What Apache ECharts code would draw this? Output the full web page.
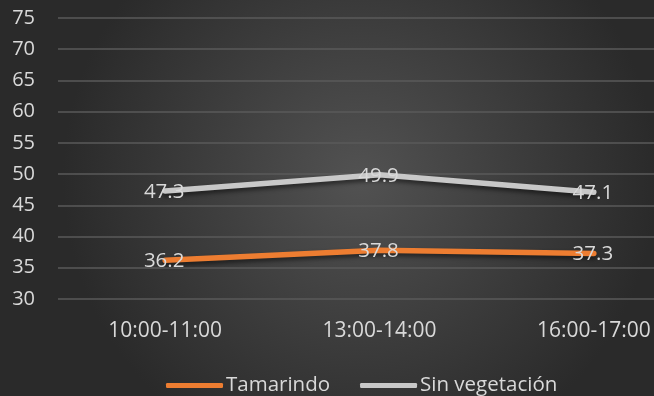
<!DOCTYPE html>
<html><head><meta charset="utf-8">
<script src="https://cdn.jsdelivr.net/npm/echarts@6/dist/echarts.min.js"></script>
<style>html,body{margin:0;padding:0;background:#333}#c{width:654px;height:396px}</style>
</head><body><div id="c"></div>
<script>
const categories = ['10:00-11:00','13:00-14:00','16:00-17:00'];
const tamarindo = [36.2, 37.8, 37.3];
const sinVegetacion = [47.3, 49.9, 47.1];
const seriesNames = ['Tamarindo','Sin vegetación'];
const yMin = 30, yMax = 75, yStep = 5;

const FONT = '"Open Sans", "Noto Sans", sans-serif';
const TXT = '#d9d9d9';
const chart = echarts.init(document.getElementById('c'));
function mkLabel(){
  return {show:true, position:'top', distance:0, offset:[-1,12], color:TXT, fontSize:20.5, fontFamily:FONT};
}
chart.setOption({
  animation:false,
  backgroundColor:{type:'radial',x:0.55,y:0.45,r:0.75,colorStops:[{offset:0,color:'#525252'},{offset:1,color:'#2a2a2a'}]},
  grid:{left:58,top:18,width:643,height:281,outerBoundsMode:'none',containLabel:false},
  legend:{top:370,left:161,itemWidth:57,itemHeight:5,itemGap:30,
    textStyle:{color:TXT,fontSize:20.5,fontFamily:FONT,padding:[0,0,0,-2]},
    data:[{name:seriesNames[0],icon:'roundRect'},{name:seriesNames[1],icon:'roundRect'}]},
  xAxis:{type:'category',data:categories,boundaryGap:true,
    axisLine:{show:false},axisTick:{show:false},
    axisLabel:{color:TXT,fontSize:21,fontFamily:FONT,margin:22}},
  yAxis:{type:'value',min:yMin,max:yMax,interval:yStep,
    axisLine:{show:false},axisTick:{show:false},
    axisLabel:{color:TXT,fontSize:20,fontFamily:FONT,margin:23},
    splitLine:{lineStyle:{color:'#5a5a5a',width:1.5}}},
  series:[
    {name:seriesNames[0],type:'line',data:tamarindo,symbol:'circle',symbolSize:1,
     lineStyle:{color:'#ed7d31',width:5.5,cap:'round',shadowColor:'rgba(0,0,0,0.5)',shadowBlur:4,shadowOffsetY:3},
     itemStyle:{color:'#ed7d31'},
     label:mkLabel()},
    {name:seriesNames[1],type:'line',data:sinVegetacion,symbol:'circle',symbolSize:1,
     lineStyle:{color:'#c8c8c8',width:5.5,cap:'round',shadowColor:'rgba(0,0,0,0.5)',shadowBlur:4,shadowOffsetY:3},
     itemStyle:{color:'#c8c8c8'},
     label:mkLabel()}
  ]
});
</script></body></html>
